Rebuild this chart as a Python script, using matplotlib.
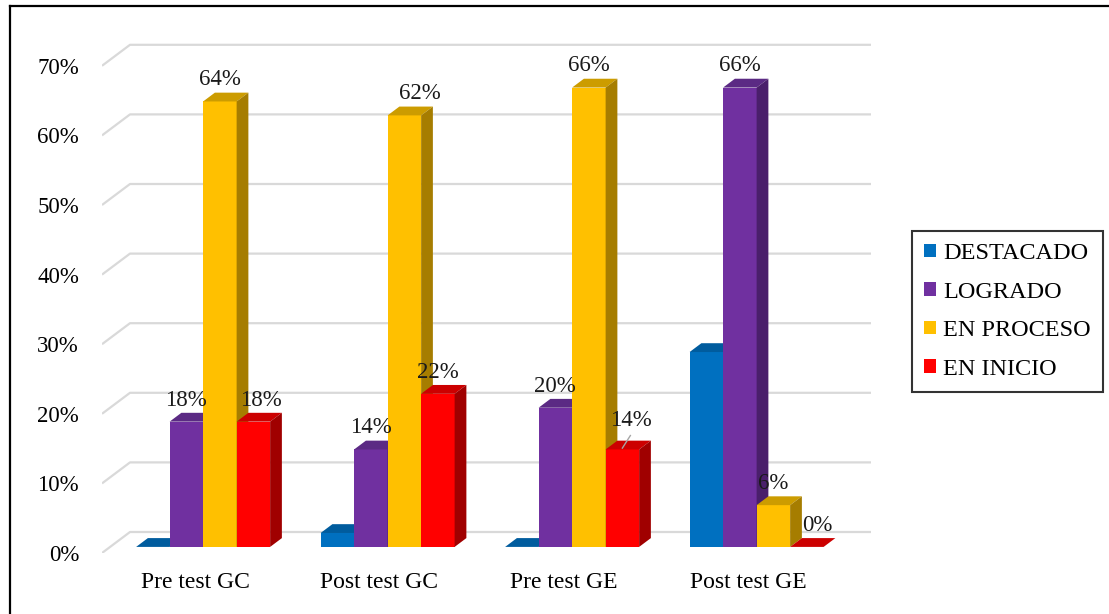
import matplotlib
matplotlib.use('Agg')
import matplotlib.pyplot as plt
from matplotlib.patches import Polygon, Patch
from matplotlib.lines import Line2D

plt.rcParams['font.family'] = ['Liberation Serif', 'DejaVu Serif']

# ---- data ----
categories = ['Pre test GC', 'Post test GC', 'Pre test GE', 'Post test GE']
series = ['DESTACADO', 'LOGRADO', 'EN PROCESO', 'EN INICIO']
destacado = [0, 2, 0, 28]
logrado = [18, 14, 20, 66]
en_proceso = [64, 62, 66, 6]
en_inicio = [18, 22, 14, 0]
values = [destacado, logrado, en_proceso, en_inicio]
show_labels = [False, True, True, True]
y_ticks = [0, 10, 20, 30, 40, 50, 60, 70]

# colours: front, top, side
c_front = ['#0070C0', '#7030A0', '#FFC000', '#FF0000']
c_top = ['#005C9E', '#5B2A84', '#CC9C00', '#CC0000']
c_side = ['#004F88', '#4A1F6B', '#A67D00', '#A00000']

# ---- figure / pixel layout ----
W, H = 1109, 614
fig = plt.figure(figsize=(W / 100, H / 100), dpi=100)
px_x = 184.5          # pixels per category
px_y = 6.96           # pixels per percent
cx0 = 195             # pixel x of first category
L, R, B, T = 102, 872, 553, 40
ax = fig.add_axes([L / W, 1 - B / H, (R - L) / W, (B - T) / H])
ax.set_xlim((L - cx0) / px_x, (R - cx0) / px_x)
ax.set_ylim(0, (B - T) / px_y)
for s in ax.spines.values():
    s.set_visible(False)

DX = 28 / px_x        # floor depth in x units
DY = 21 / px_y        # floor depth in y units
f0, f1 = 0.29, 0.71   # bar depth range
w = 33.5 / px_x       # bar width

# gridlines (wall + side wall)
x0 = ax.get_xlim()[0]
xend = (871 - cx0) / px_x
for v in y_ticks:
    ax.plot([x0, x0 + DX, xend], [v, v + DY, v + DY], color='#D9D9D9', lw=1.6,
            zorder=1, solid_capstyle='butt')

# bars
ddx, ddy = (f1 - f0) * DX, (f1 - f0) * DY
z = 2
for i in range(len(categories)):
    for j in range(len(series)):
        v = values[j][i]
        xl = i - 2 * w + j * w + f0 * DX
        xr = xl + w
        yb = f0 * DY
        yt = yb + v
        ax.bar(xl, v, width=w, bottom=yb, align='edge', color=c_front[j],
               lw=0, zorder=z)
        ax.add_patch(Polygon([(xl, yt), (xr, yt), (xr + ddx, yt + ddy), (xl + ddx, yt + ddy)],
                             closed=True, fc=c_top[j], ec='none', zorder=z))
        if v > 0:
            ax.add_patch(Polygon([(xr, yb), (xr + ddx, yb + ddy), (xr + ddx, yt + ddy), (xr, yt)],
                                 closed=True, fc=c_side[j], ec='none', zorder=z))
        z += 1

# data labels (offsets in pixels where Excel moved them)
nudge = {(3, 0): (8, 0), (2, 1): (16, 0), (3, 2): (9, 7), (3, 3): (10, 0)}
for j in range(len(series)):
    if not show_labels[j]:
        continue
    for i in range(len(categories)):
        v = values[j][i]
        xc = i - 2 * w + j * w + f0 * DX + w / 2
        yc = f0 * DY + v + 3.1
        nx, ny = nudge.get((j, i), (0, 0))
        ax.text(xc + nx / px_x, yc + ny / px_y, f'{v}%', ha='center', va='center',
                fontsize=16.5, color='#1A1A1A', zorder=50)
        if (j, i) == (3, 2):
            ax.plot([xc + 8 / px_x, xc], [v + f0 * DY + 2, v + f0 * DY + 0.2],
                    color='#A6A6A6', lw=1, zorder=50)

# axes ticks
ax.set_yticks(y_ticks)
ax.set_yticklabels([f'{t}%' for t in y_ticks], fontsize=16.5)
ax.set_xticks(range(len(categories)))
ax.set_xticklabels(categories, fontsize=17)
ax.tick_params(axis='y', length=0, pad=16.5)
ax.tick_params(axis='x', length=0, pad=14)

# legend
handles = [Patch(facecolor=c, edgecolor='none') for c in c_front]
leg = fig.legend(handles, series, loc='center left',
                 bbox_to_anchor=(912 / W, 1 - 311.5 / H), bbox_transform=fig.transFigure,
                 fontsize=17.5, frameon=True, fancybox=False, handlelength=0.47,
                 handleheight=0.47, handletextpad=0.3, labelspacing=0.72,
                 borderpad=0.5, borderaxespad=0)
leg.get_frame().set_edgecolor('black')
leg.get_frame().set_linewidth(1.5)

# outer frame (left and top edges visible)
fig.add_artist(Line2D([10 / W, 10 / W], [0, 1 - 6 / H], color='black', lw=1.6,
                      transform=fig.transFigure))
fig.add_artist(Line2D([10 / W, 1], [1 - 6 / H, 1 - 6 / H], color='black', lw=1.6,
                      transform=fig.transFigure))

fig.savefig('out.png', dpi=100, facecolor='white')
